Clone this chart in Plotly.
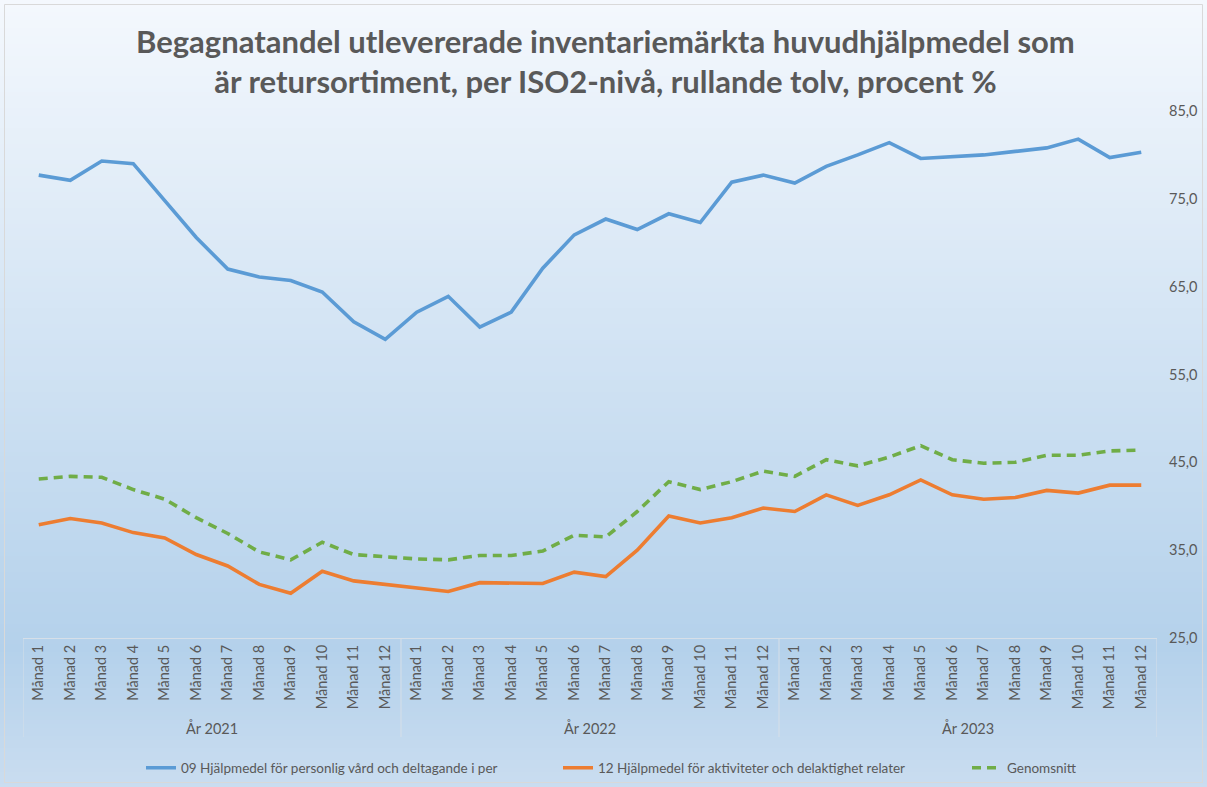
import plotly.graph_objects as go

# Rolling twelve-month share (%) per ISO2 level, 2021-2023
years = ["År 2021", "År 2022", "År 2023"]
months = [f"Månad {m}" for m in range(1, 13)]

serie_09 = [77.7, 77.1, 79.3, 79.0, 74.8, 70.6, 67.0, 66.1, 65.7, 64.4, 61.0, 59.0,
            62.1, 63.9, 60.4, 62.1, 67.1, 70.9, 72.7, 71.5, 73.3, 72.3, 76.9, 77.7,
            76.8, 78.7, 80.0, 81.4, 79.6, 79.8, 80.0, 80.4, 80.8, 81.8, 79.7, 80.3]
serie_12 = [37.9, 38.6, 38.1, 37.0, 36.4, 34.5, 33.2, 31.1, 30.1, 32.6, 31.5, 31.1,
            30.8, 30.3, 31.3, 31.2, 31.2, 32.5, 32.0, 35.0, 38.9, 38.1, 38.7, 39.8,
            39.4, 41.3, 40.1, 41.3, 43.0, 41.3, 40.8, 41.0, 41.8, 41.5, 42.4, 42.4]
genomsnitt = [43.1, 43.4, 43.3, 41.9, 40.8, 38.7, 36.9, 34.8, 33.9, 35.9, 34.5, 34.2,
              34.0, 33.9, 34.4, 34.4, 34.9, 36.7, 36.5, 39.4, 42.8, 41.9, 42.8, 44.0,
              43.4, 45.3, 44.6, 45.6, 46.9, 45.3, 44.9, 45.0, 45.8, 45.8, 46.3, 46.4]

names = ["09 Hjälpmedel för personlig vård och deltagande i per",
         "12 Hjälpmedel för aktiviteter och delaktighet relater",
         "Genomsnitt"]
colors = ["#5B9BD5", "#ED7D31", "#70AD47"]

y_ticks = [25, 35, 45, 55, 65, 75, 85]

FIG_W, FIG_H = 1207, 787
M_L, M_R, M_T, M_B = 23, 50, 111, 149
PW, PH = FIG_W - M_L - M_R, FIG_H - M_T - M_B
TXT = "#595959"
FONT = "Lato"


def px_x(px):
    return (px - M_L) / PW


def px_y(py):
    return (FIG_H - M_B - py) / PH


n = len(years) * len(months)
xs = list(range(n))
labels = [months[i % 12] for i in xs]

fig = go.Figure()
legend_ids = ["legend", "legend2", "legend3"]
for vals, name, col, dash, lg in zip([serie_09, serie_12, genomsnitt], names, colors,
                                     ["solid", "solid", "9px,6px"], legend_ids):
    fig.add_trace(go.Scatter(x=xs, y=vals, mode="lines", name=name, legend=lg,
                             line=dict(color=col, width=3.6, dash=dash)))

shapes = []
# vertical gradient background across the whole chart
top = (244, 248, 253)
mid = (180, 209, 235)
bot = (202, 221, 240)
step = 4
for py in range(0, FIG_H, step):
    t = py / FIG_H
    if t < 0.82:
        f = t / 0.82
        c = [round(top[k] + (mid[k] - top[k]) * f) for k in range(3)]
    else:
        f = (t - 0.82) / 0.18
        c = [round(mid[k] + (bot[k] - mid[k]) * f) for k in range(3)]
    shapes.append(dict(type="rect", xref="paper", yref="paper", layer="below",
                       x0=px_x(0), x1=px_x(FIG_W), y0=px_y(py + step + 1), y1=px_y(py),
                       fillcolor=f"rgb({c[0]},{c[1]},{c[2]})", line=dict(width=0)))
# outer frame
shapes.append(dict(type="rect", xref="paper", yref="paper", layer="above",
                   x0=px_x(4.5), x1=px_x(FIG_W - 4.5), y0=px_y(FIG_H - 4.5), y1=px_y(4.5),
                   line=dict(color="#d9d9d9", width=1)))
# year group dividers below the category axis
for b in [-0.5, 11.5, 23.5, 35.5]:
    shapes.append(dict(type="line", xref="x", yref="paper", x0=b, x1=b,
                       y0=0, y1=px_y(737), line=dict(color="#d6dfe8", width=1)))

annotations = [dict(text="Begagnatandel utlevererade inventariemärkta huvudhjälpmedel som<br>"
                         "är retursortiment, per ISO2-nivå, rullande tolv, procent %",
                    x=px_x(605), y=px_y(61), xref="paper", yref="paper",
                    xanchor="center", yanchor="middle", showarrow=False,
                    font=dict(family=FONT, size=31, color=TXT, weight="bold"))]
for i, yr in enumerate(years):
    annotations.append(dict(x=i * 12 + 5.5, y=px_y(728), xref="x", yref="paper",
                            text=yr, showarrow=False, yanchor="middle",
                            font=dict(family=FONT, size=14.5, color=TXT)))

legend_style = dict(orientation="h", xanchor="left", yanchor="middle", y=px_y(768),
                    bgcolor="rgba(0,0,0,0)", borderwidth=0,
                    font=dict(family=FONT, size=13.5, color=TXT))

fig.update_layout(
    width=FIG_W, height=FIG_H,
    margin=dict(l=M_L, r=M_R, t=M_T, b=M_B, autoexpand=False),
    paper_bgcolor="white", plot_bgcolor="rgba(0,0,0,0)",
    separators=", ",
    xaxis=dict(range=[-0.5, n - 0.5], tickmode="array", tickvals=xs, ticktext=labels,
               tickangle=-90, showgrid=False, zeroline=False, showline=True,
               linecolor="#d6dfe8", linewidth=1, ticks="", automargin=False,
               tickfont=dict(family=FONT, size=14.5, color=TXT)),
    yaxis=dict(range=[25, 85], side="right", tickmode="array", tickvals=y_ticks,
               tickformat=".1f", showgrid=False, zeroline=False, showline=False,
               ticks="", ticklabelstandoff=11, automargin=False,
               tickfont=dict(family=FONT, size=14.5, color=TXT)),
    legend=dict(legend_style, x=px_x(141)),
    legend2=dict(legend_style, x=px_x(558)),
    legend3=dict(legend_style, x=px_x(967)),
    shapes=shapes,
    annotations=annotations,
    showlegend=True,
)

fig.write_html("out.html")
